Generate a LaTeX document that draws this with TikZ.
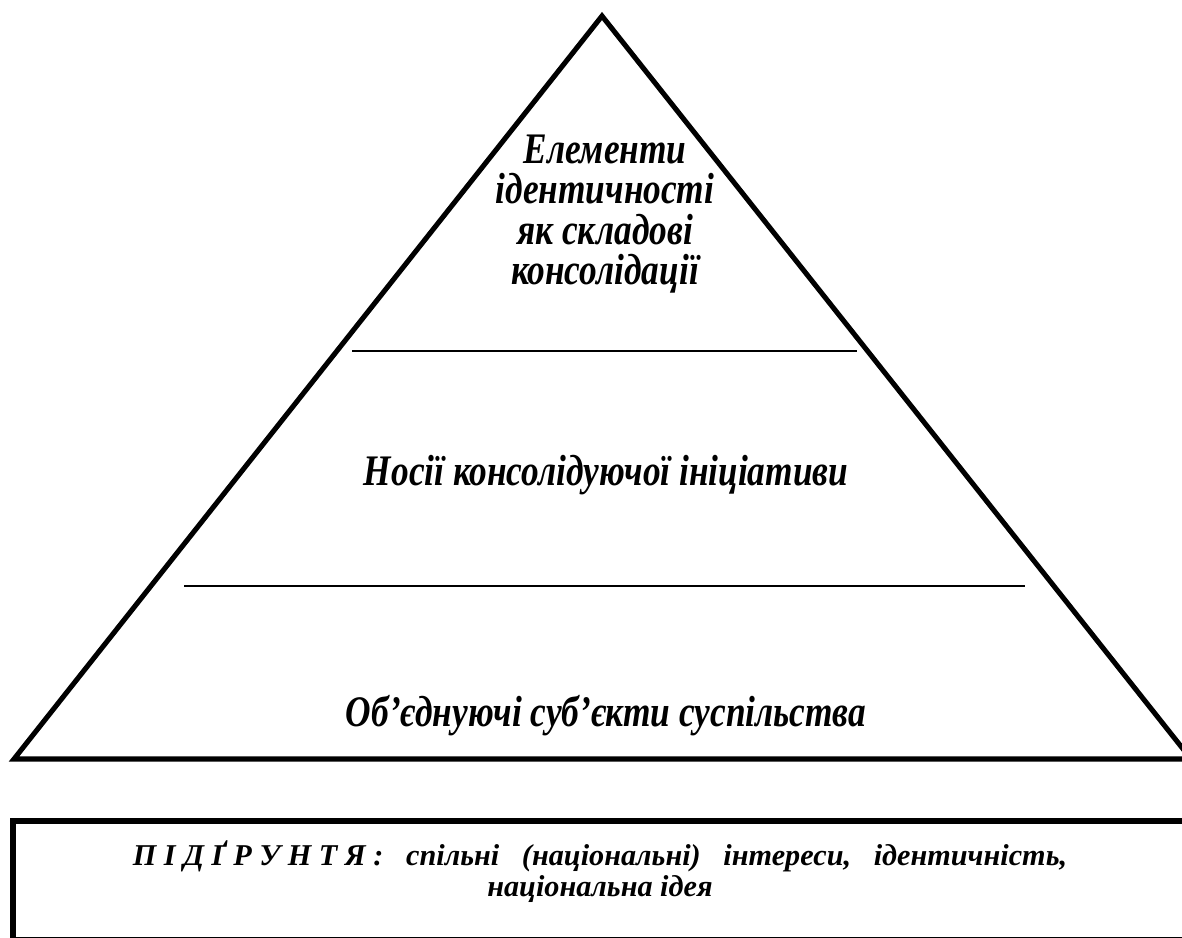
\documentclass[tikz,border=0pt]{standalone}
\usepackage{fontspec}
\setmainfont{Liberation Serif}[
  ItalicFont={Liberation Serif Italic},
  BoldFont={Liberation Serif Bold},
  BoldItalicFont={Liberation Serif Bold Italic}]
\newfontfamily\narrowfont{Liberation Serif}[
  FakeStretch=0.81,
  ItalicFont={Liberation Serif Italic},
  BoldFont={Liberation Serif Bold},
  BoldItalicFont={Liberation Serif Bold Italic}]

\tikzset{
  thickline/.style={line width=3.6pt, line join=miter},
  divider/.style={line width=1.4pt},
  leveltext/.style={font=\narrowfont\bfseries\itshape\fontsize{31}{28.6}\selectfont, align=center, inner sep=0pt},
  basetext/.style={font=\bfseries\itshape\fontsize{21.5}{22}\selectfont, align=center, inner sep=0pt}
}

\begin{document}
\begin{tikzpicture}[x=0.025cm, y=-0.025cm]
    % 画像の範囲
    \useasboundingbox (0,0) rectangle (1182,938);
    \begin{scope}
        \clip (0,0) rectangle (1182,938);

        % ピラミッド
        \draw[thickline] (602,16) -- (14,759) -- (1191,759) -- cycle;
        \draw[divider] (352,351) -- (857,351);
        \draw[divider] (184,586) -- (1025,586);

        % 各層のテキスト
        \node[leveltext] (top) at (605,214) {Елементи\\ідентичності\\як складові\\консолідації};
        \node[leveltext, anchor=base] (middle) at (606,485) {Носії консолідуючої ініціативи};
        \node[leveltext, anchor=base] (bottom) at (606,726) {Об’єднуючі суб’єкти суспільства};

        % 下の枠 (右と下は切れている)
        \draw[thickline] (13,821) rectangle (1220,939.5);
        \node[basetext] (ground) at (600,872)
            {\makebox[23.35cm]{П І Д Ґ Р У Н Т Я :\hfill спільні\hfill (національні)\hfill інтереси,\hfill ідентичність,}\\
             національна ідея};
    \end{scope}
\end{tikzpicture}
\end{document}
